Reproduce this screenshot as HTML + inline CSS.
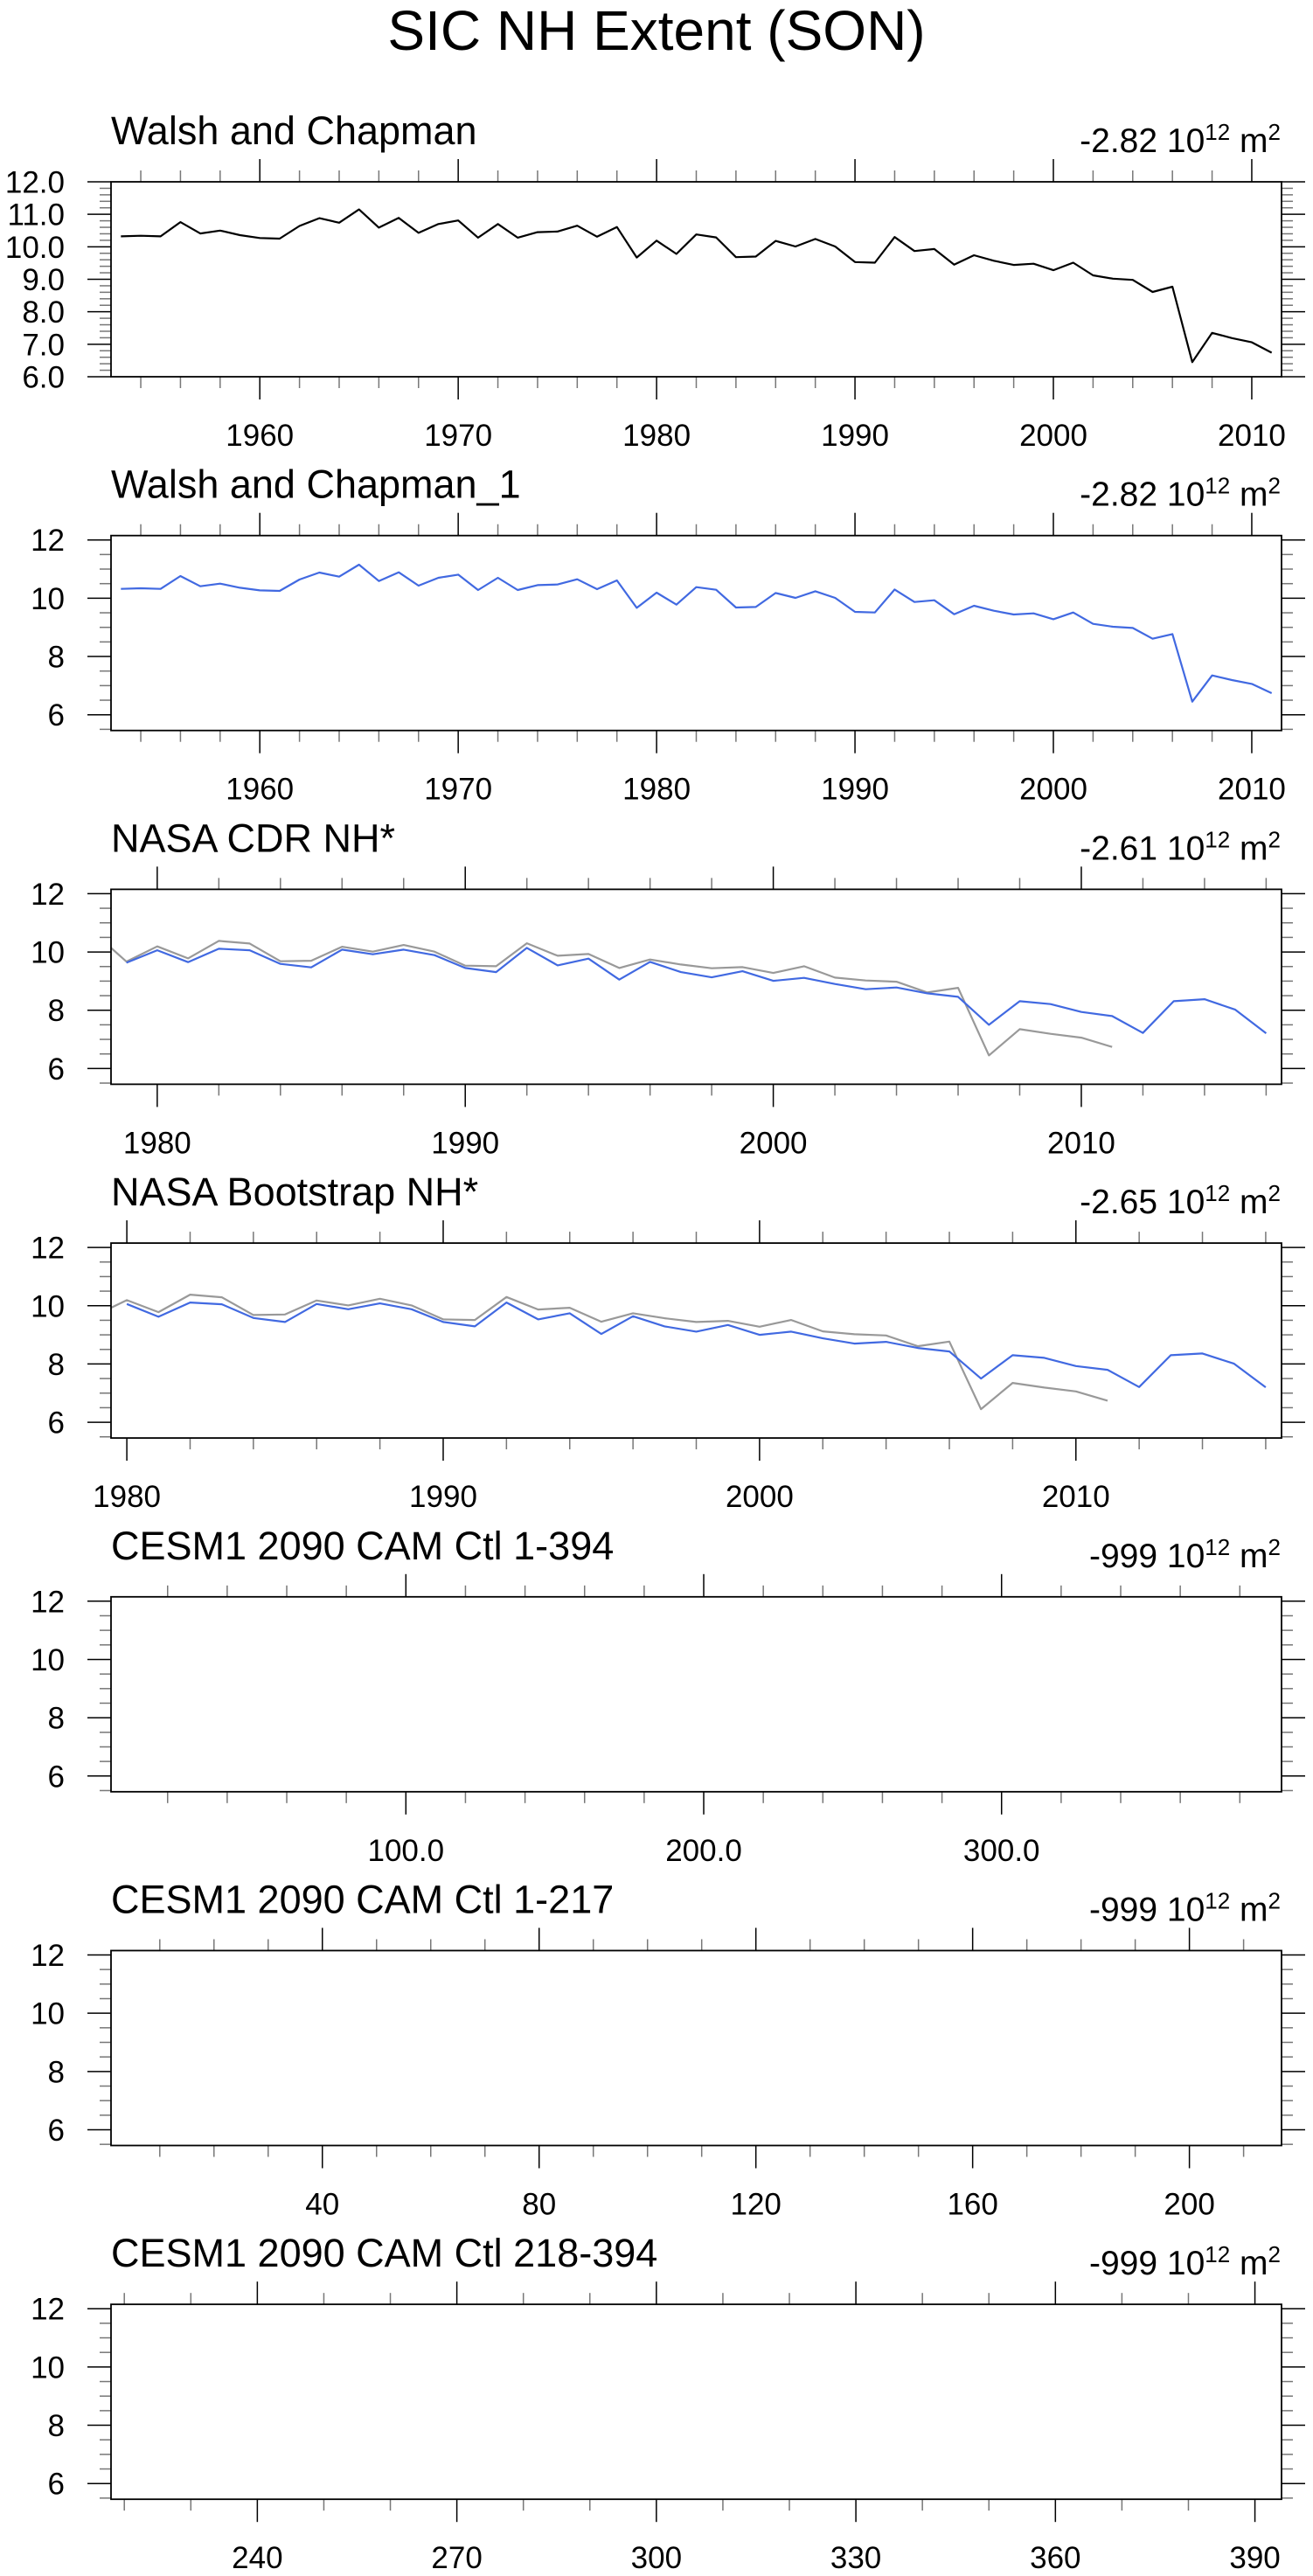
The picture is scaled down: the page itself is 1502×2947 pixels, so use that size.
<!DOCTYPE html>
<html><head><meta charset="utf-8">
<style>
html,body{margin:0;padding:0;background:#fff;}
svg{display:block;font-family:"Liberation Sans",Arial,sans-serif;}
</style></head>
<body>
<svg id="chart" width="1502" height="2947" viewBox="0 0 1502 2947" xmlns="http://www.w3.org/2000/svg">
<rect width="1502" height="2947" fill="#fff"/>
<text x="751" y="57" font-size="64" text-anchor="middle" fill="#000">SIC NH Extent (SON)</text>
</svg>
<script>
const walshYears = [1953,1954,1955,1956,1957,1958,1959,1960,1961,1962,1963,1964,1965,1966,1967,1968,1969,1970,1971,1972,1973,1974,1975,1976,1977,1978,1979,1980,1981,1982,1983,1984,1985,1986,1987,1988,1989,1990,1991,1992,1993,1994,1995,1996,1997,1998,1999,2000,2001,2002,2003,2004,2005,2006,2007,2008,2009,2010,2011];
const walshValues = [10.32,10.34,10.32,10.76,10.41,10.50,10.36,10.27,10.25,10.64,10.88,10.74,11.15,10.59,10.89,10.43,10.70,10.81,10.28,10.70,10.28,10.45,10.47,10.65,10.31,10.61,9.67,10.19,9.78,10.38,10.29,9.68,9.70,10.18,10.01,10.24,10.01,9.53,9.51,10.30,9.87,9.93,9.45,9.74,9.57,9.44,9.48,9.28,9.51,9.12,9.02,8.98,8.61,8.77,6.45,7.35,7.19,7.06,6.74];
const cdrYears = [1979,1980,1981,1982,1983,1984,1985,1986,1987,1988,1989,1990,1991,1992,1993,1994,1995,1996,1997,1998,1999,2000,2001,2002,2003,2004,2005,2006,2007,2008,2009,2010,2011,2012,2013,2014,2015,2016];
const cdrValues = [9.63,10.06,9.65,10.11,10.06,9.59,9.47,10.08,9.92,10.08,9.89,9.45,9.31,10.14,9.54,9.77,9.05,9.66,9.31,9.13,9.34,9.01,9.11,8.90,8.72,8.78,8.58,8.46,7.50,8.31,8.21,7.94,7.80,7.22,8.31,8.38,8.02,7.21];
const bootYears = [1980,1981,1982,1983,1984,1985,1986,1987,1988,1989,1990,1991,1992,1993,1994,1995,1996,1997,1998,1999,2000,2001,2002,2003,2004,2005,2006,2007,2008,2009,2010,2011,2012,2013,2014,2015,2016];
const bootValues = [10.06,9.62,10.11,10.05,9.58,9.44,10.06,9.88,10.08,9.88,9.44,9.29,10.11,9.53,9.74,9.03,9.64,9.29,9.11,9.34,9.00,9.11,8.88,8.70,8.76,8.55,8.43,7.50,8.30,8.21,7.93,7.80,7.21,8.30,8.36,8.01,7.20];
const panelTitles = ["Walsh and Chapman","Walsh and Chapman_1","NASA CDR NH*","NASA Bootstrap NH*","CESM1 2090 CAM Ctl 1-394","CESM1 2090 CAM Ctl 1-217","CESM1 2090 CAM Ctl 218-394"];
const trendLabels = ["-2.82","-2.82","-2.61","-2.65","-999","-999","-999"];
const xTicks1 = [1960,1970,1980,1990,2000,2010];
const xTicks3 = [1980,1990,2000,2010];
const xTicks5 = [100,200,300];
const xTicks6 = [40,80,120,160,200];
const xTicks7 = [240,270,300,330,360,390];

const NS = "http://www.w3.org/2000/svg";
const svg = document.getElementById('chart');
const X0 = 127, X1 = 1466, H = 223;
function mk(tag, attrs, parent){const e=document.createElementNS(NS,tag);for(const k in attrs)e.setAttribute(k,attrs[k]);(parent||svg).appendChild(e);return e;}

const panels = [
 {xmin:1952.5,xmax:2011.5,ymin:6,ymax:12,yMaj:[6,7,8,9,10,11,12],yMinStep:0.2,yFmt:v=>v.toFixed(1),xt:xTicks1,xMinStep:2,xFmt:v=>String(v),series:[[walshYears,walshValues,'#000']]},
 {xmin:1952.5,xmax:2011.5,ymin:5.46,ymax:12.15,yMaj:[6,8,10,12],yMinStep:0.5,yFmt:v=>String(v),xt:xTicks1,xMinStep:2,xFmt:v=>String(v),series:[[walshYears,walshValues,'#4169e1']]},
 {xmin:1978.5,xmax:2016.5,ymin:5.46,ymax:12.15,yMaj:[6,8,10,12],yMinStep:0.5,yFmt:v=>String(v),xt:xTicks3,xMinStep:2,xFmt:v=>String(v),series:[[walshYears,walshValues,'#999999'],[cdrYears,cdrValues,'#4169e1']]},
 {xmin:1979.5,xmax:2016.5,ymin:5.46,ymax:12.15,yMaj:[6,8,10,12],yMinStep:0.5,yFmt:v=>String(v),xt:xTicks3,xMinStep:2,xFmt:v=>String(v),series:[[walshYears,walshValues,'#999999'],[bootYears,bootValues,'#4169e1']]},
 {xmin:1,xmax:394,ymin:5.46,ymax:12.15,yMaj:[6,8,10,12],yMinStep:0.5,yFmt:v=>String(v),xt:xTicks5,xMinStep:20,xFmt:v=>v.toFixed(1),series:[]},
 {xmin:1,xmax:217,ymin:5.46,ymax:12.15,yMaj:[6,8,10,12],yMinStep:0.5,yFmt:v=>String(v),xt:xTicks6,xMinStep:10,xFmt:v=>String(v),series:[]},
 {xmin:218,xmax:394,ymin:5.46,ymax:12.15,yMaj:[6,8,10,12],yMinStep:0.5,yFmt:v=>String(v),xt:xTicks7,xMinStep:10,xFmt:v=>String(v),series:[]}
];

panels.forEach((p,i)=>{
  const top = 208 + i*404.7, bot = top + H;
  const g = mk('g',{});
  
  
  const xs = v => X0 + (v-p.xmin)/(p.xmax-p.xmin)*(X1-X0);
  const ys = v => bot - (v-p.ymin)/(p.ymax-p.ymin)*H;
  const cp = mk('clipPath',{id:'clip'+i},g);
  mk('rect',{x:X0,y:top,width:X1-X0,height:H},cp);
  const t = mk('text',{x:127,y:top-43,'font-size':45,fill:'#000'},g);
  t.textContent = panelTitles[i];
  
  
  const r = mk('text',{x:1465,y:top-34,'font-size':39,'text-anchor':'end',fill:'#000'},g);
  
  
  const s1=mk('tspan',{},r); s1.textContent=trendLabels[i]+' 10';
  const s2=mk('tspan',{dy:-14,'font-size':26},r); s2.textContent='12';
  const s3=mk('tspan',{dy:14},r); s3.textContent=' m';
  const s4=mk('tspan',{dy:-14,'font-size':26},r); s4.textContent='2';
  const nMin = Math.round((p.ymax-p.ymin)/p.yMinStep)+2;
  for(let k=0;k<nMin;k++){
    const v = Math.ceil(p.ymin/p.yMinStep)*p.yMinStep + k*p.yMinStep;
    if(v>p.ymax+1e-6) break;
    if(p.yMaj.some(m=>Math.abs(m-v)<1e-6)) continue;
    const y=ys(v);
    const a=mk('line',{x1:X0-13,x2:X0,y1:y,y2:y,stroke:'#777','stroke-width':1.5},g);
    
    
    const b=mk('line',{x1:X1,x2:X1+13,y1:y,y2:y,stroke:'#777','stroke-width':1.5},g);
    
    
  }
  p.yMaj.forEach(v=>{
    const y=ys(v);
    const a=mk('line',{x1:X0-27,x2:X0,y1:y,y2:y,stroke:'#000','stroke-width':1.5},g);
    
    
    const b=mk('line',{x1:X1,x2:X1+27,y1:y,y2:y,stroke:'#000','stroke-width':1.5},g);
    
    
    const l=mk('text',{x:74,y:y+12.5,'font-size':35,'text-anchor':'end',fill:'#000'},g);
    l.textContent=p.yFmt(v);
    
    
  });
  for(let v=Math.ceil(p.xmin/p.xMinStep)*p.xMinStep; v<=p.xmax; v+=p.xMinStep){
    if(p.xt.includes(v)) continue;
    const x=xs(v);
    const a=mk('line',{x1:x,x2:x,y1:top-13,y2:top,stroke:'#777','stroke-width':1.5},g);
    
    
    const b=mk('line',{x1:x,x2:x,y1:bot,y2:bot+13,stroke:'#777','stroke-width':1.5},g);
    
    
  }
  p.xt.forEach(v=>{
    const x=xs(v);
    const a=mk('line',{x1:x,x2:x,y1:top-26,y2:top,stroke:'#000','stroke-width':1.5},g);
    
    
    const b=mk('line',{x1:x,x2:x,y1:bot,y2:bot+26,stroke:'#000','stroke-width':1.5},g);
    
    
    const l=mk('text',{x:x,y:bot+79,'font-size':35,'text-anchor':'middle',fill:'#000'},g);
    l.textContent=p.xFmt(v);
    
    
  });
  p.series.forEach(([xv,yv,col])=>{
    const pts = xv.map((x,k)=>xs(x).toFixed(1)+','+ys(yv[k]).toFixed(1)).join(' ');
    const pl=mk('polyline',{points:pts,fill:'none',stroke:col,'stroke-width':2.2,'stroke-linejoin':'round','clip-path':'url(#clip'+i+')'},g);
    
    
  });
  const f=mk('rect',{x:X0,y:top,width:X1-X0,height:H,fill:'none',stroke:'#000','stroke-width':1.8},g);
  
  
});
</script>
</body></html>
